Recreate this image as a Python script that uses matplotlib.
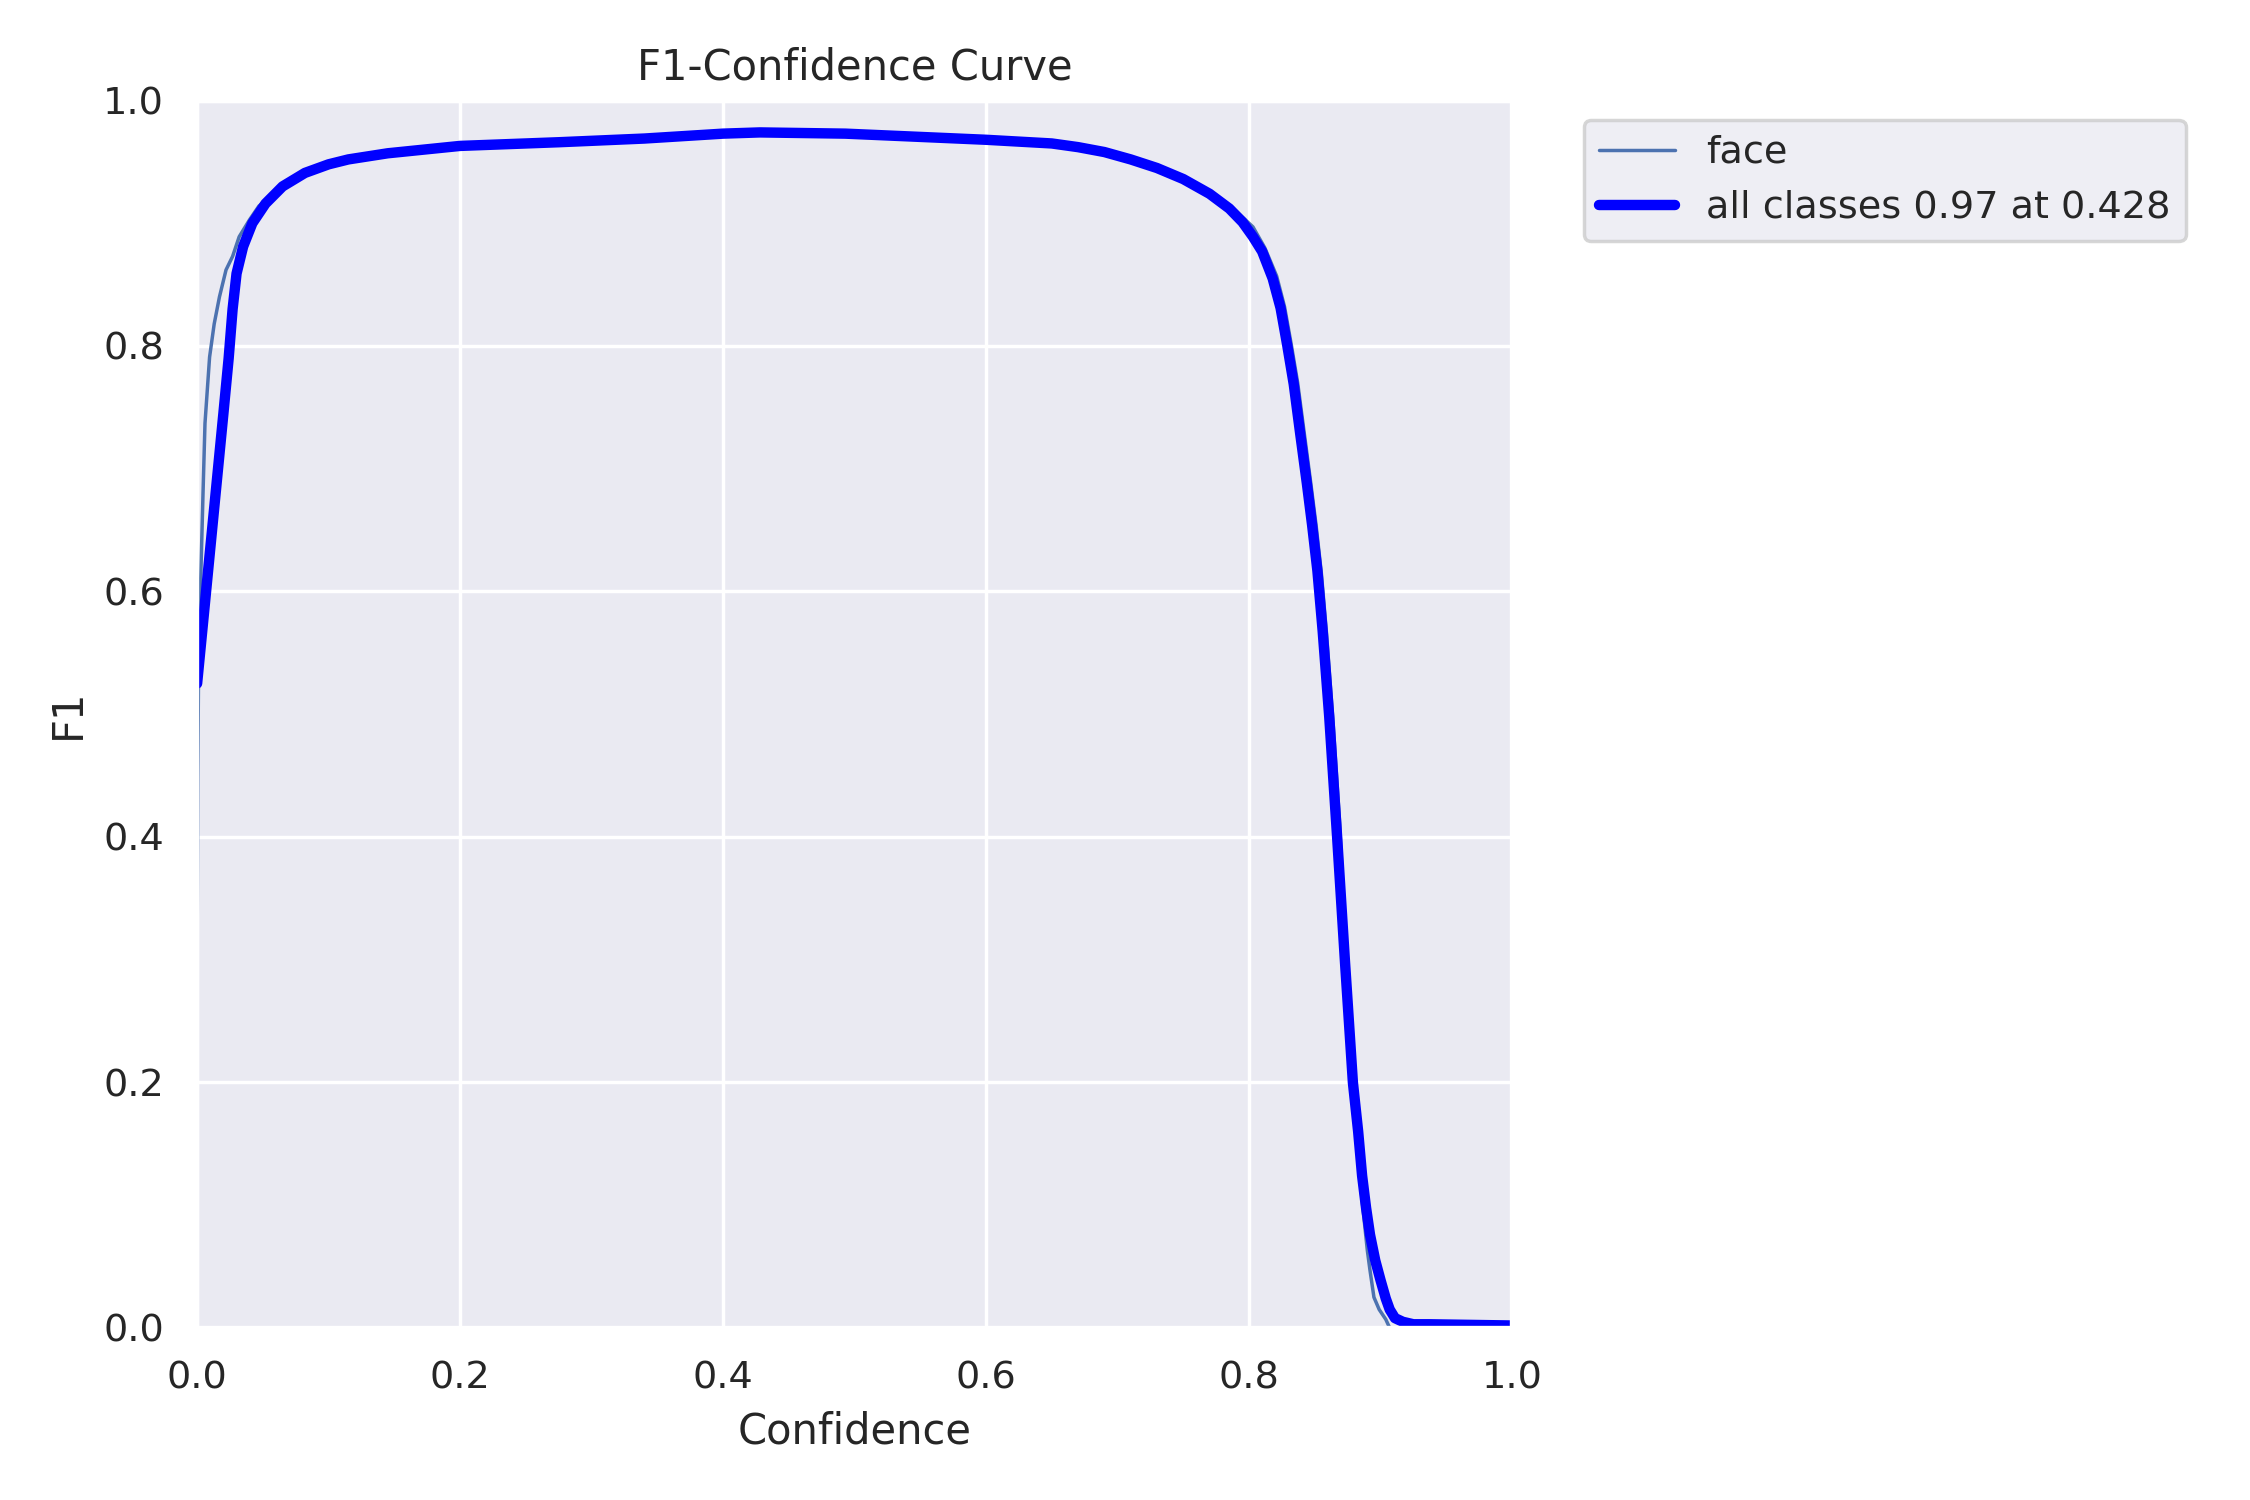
import matplotlib
matplotlib.use("Agg")
import matplotlib.pyplot as plt
import seaborn as sns

# values
face_conf = [0, 0.0005, 0.001, 0.002, 0.003, 0.0045, 0.006, 0.0095, 0.013, 0.017, 0.022, 0.027,
             0.032, 0.040, 0.047, 0.065, 0.082, 0.100, 0.145, 0.20, 0.275, 0.34, 0.40, 0.428,
             0.493, 0.60, 0.65, 0.68, 0.70, 0.72, 0.74, 0.76, 0.78, 0.790, 0.803, 0.812, 0.821,
             0.827, 0.832, 0.837, 0.842, 0.847, 0.851, 0.855, 0.859, 0.864, 0.869, 0.874, 0.879,
             0.882, 0.886, 0.890, 0.892, 0.895, 0.899, 0.904, 0.907, 1.0]
face_f1 = [0.295, 0.45, 0.52, 0.58, 0.62, 0.68, 0.737, 0.791, 0.818, 0.840, 0.862, 0.873,
           0.889, 0.903, 0.914, 0.930, 0.941, 0.948, 0.957, 0.963, 0.966, 0.969, 0.973, 0.974,
           0.973, 0.968, 0.965, 0.961, 0.955, 0.949, 0.941, 0.931, 0.917, 0.910, 0.897, 0.880,
           0.857, 0.832, 0.802, 0.770, 0.729, 0.688, 0.654, 0.615, 0.565, 0.492, 0.410, 0.298,
           0.205, 0.152, 0.104, 0.063, 0.047, 0.025, 0.015, 0.007, 0.0, 0.0]

all_conf = [0, 0.005, 0.010, 0.015, 0.020, 0.024, 0.027, 0.030, 0.035, 0.042, 0.052, 0.065,
            0.082, 0.100, 0.115, 0.145, 0.20, 0.275, 0.34, 0.40, 0.428, 0.493, 0.60, 0.65,
            0.67, 0.69, 0.71, 0.73, 0.75, 0.77, 0.785, 0.795, 0.803, 0.810, 0.818, 0.824, 0.829,
            0.834, 0.839, 0.844, 0.848, 0.852, 0.856, 0.861, 0.867, 0.873, 0.879, 0.883, 0.886,
            0.889, 0.892, 0.896, 0.900, 0.904, 0.907, 0.911, 0.917, 0.925, 0.937, 1.0]
all_f1 = [0.525, 0.58, 0.635, 0.69, 0.745, 0.79, 0.83, 0.859, 0.881, 0.900, 0.916, 0.930,
          0.941, 0.948, 0.952, 0.957, 0.963, 0.966, 0.969, 0.973, 0.974, 0.973, 0.968, 0.965,
          0.962, 0.958, 0.952, 0.945, 0.936, 0.924, 0.912, 0.901, 0.889, 0.877, 0.855, 0.831,
          0.801, 0.769, 0.728, 0.688, 0.654, 0.617, 0.568, 0.498, 0.40, 0.298, 0.2, 0.16, 0.124,
          0.098, 0.076, 0.055, 0.039, 0.024, 0.015, 0.008, 0.005, 0.003, 0.003, 0.002]

best_f1 = 0.97
best_conf = 0.428

sns.set_theme()

fig, ax = plt.subplots(1, 1, figsize=(9, 6))
ax.plot(face_conf, face_f1, linewidth=1, label='face')
ax.plot(all_conf, all_f1, linewidth=3, color='blue', label=f'all classes {best_f1:.2f} at {best_conf:.3f}')
ax.set_xlabel('Confidence')
ax.set_ylabel('F1')
ax.set_xlim(0, 1)
ax.set_ylim(0, 1)
ax.legend(bbox_to_anchor=(1.04, 1), loc="upper left")
ax.set_title('F1-Confidence Curve')

fig.subplots_adjust(left=0.0876, right=0.672, top=0.933, bottom=0.1147)
fig.savefig('out.png', dpi=250)
plt.close(fig)
